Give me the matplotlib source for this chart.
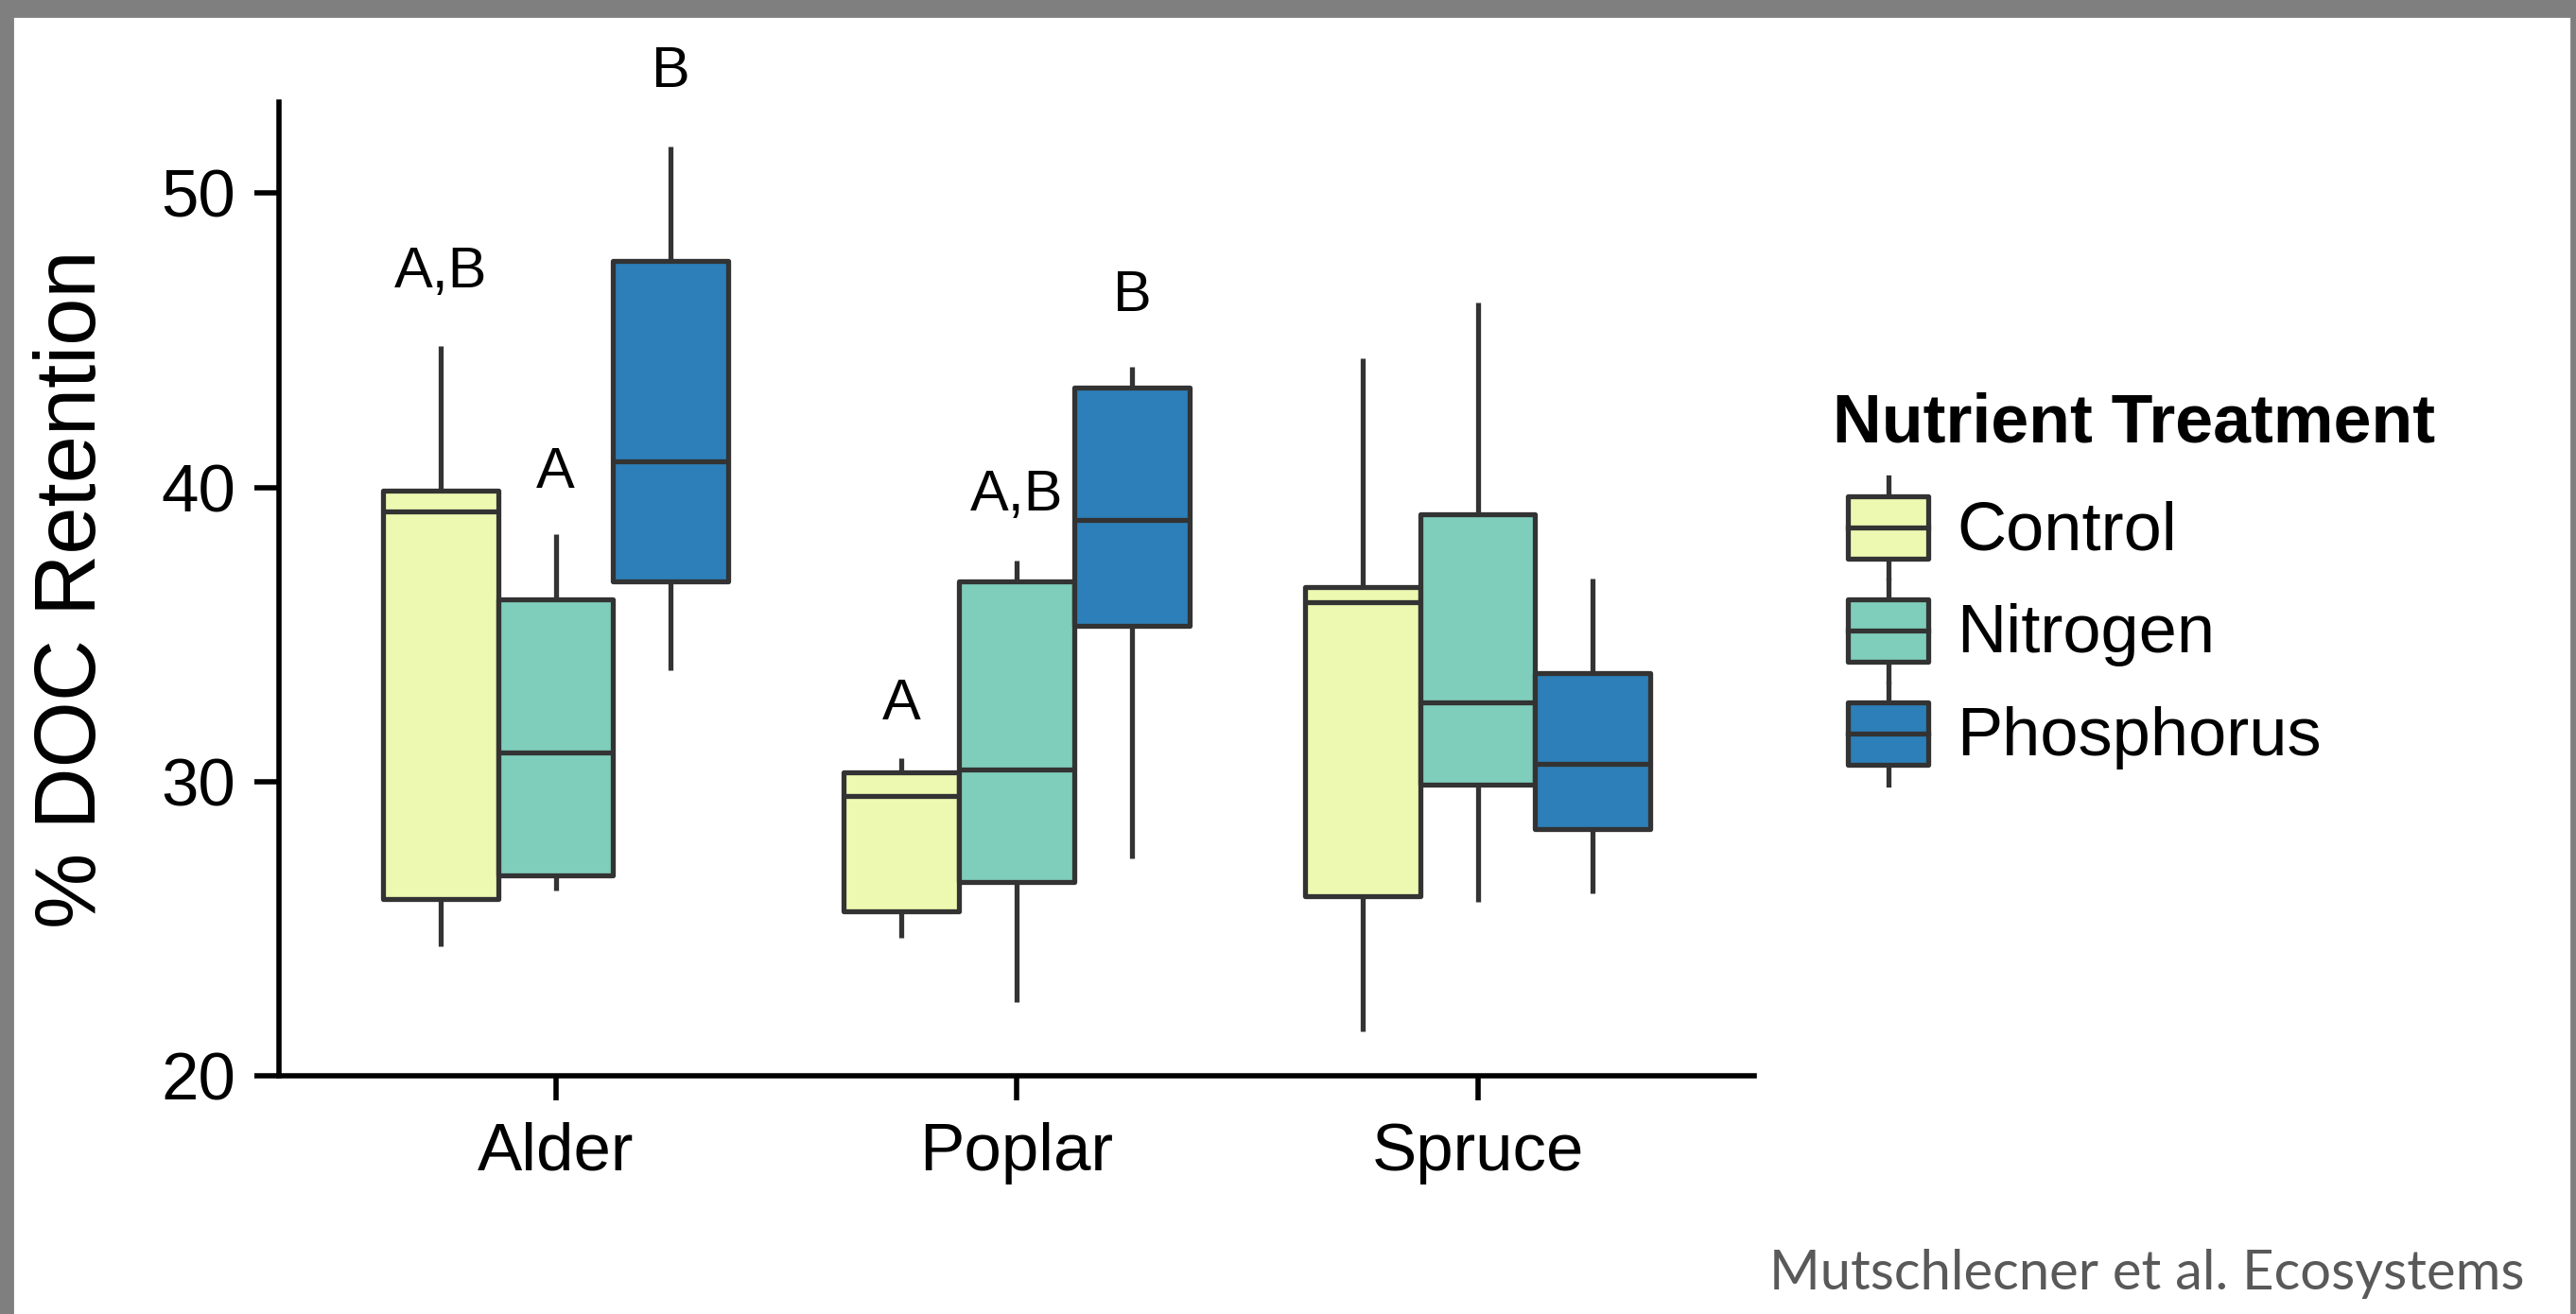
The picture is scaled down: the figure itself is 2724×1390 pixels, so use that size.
import matplotlib
matplotlib.use("Agg")
import matplotlib.pyplot as plt
from matplotlib.patches import Rectangle, Patch
from matplotlib.lines import Line2D
from matplotlib.legend_handler import HandlerBase

plt.rcParams['font.family'] = ['Liberation Sans', 'DejaVu Sans']

species = ["Alder", "Poplar", "Spruce"]
treatments = ["Control", "Nitrogen", "Phosphorus"]
colors = ["#EDF8B1", "#7FCDBB", "#2C7FB8"]

# box stats per treatment, one value per species (Alder, Poplar, Spruce)
control_lo = [24.4, 24.7, 21.5]
control_q1 = [26.0, 25.6, 26.1]
control_med = [39.2, 29.5, 36.1]
control_q3 = [39.9, 30.3, 36.6]
control_hi = [44.8, 30.8, 44.4]

nitrogen_lo = [26.3, 22.5, 25.9]
nitrogen_q1 = [26.8, 26.6, 29.9]
nitrogen_med = [31.0, 30.4, 32.7]
nitrogen_q3 = [36.2, 36.8, 39.1]
nitrogen_hi = [38.4, 37.5, 46.3]

phosphorus_lo = [33.8, 27.4, 26.2]
phosphorus_q1 = [36.8, 35.3, 28.4]
phosphorus_med = [40.9, 38.9, 30.6]
phosphorus_q3 = [47.7, 43.4, 33.7]
phosphorus_hi = [51.6, 44.1, 36.9]

# significance letters (Alder, Poplar), per treatment
letter_text = [["A,B", "A", "B"], ["A", "A,B", "B"]]
letter_y = [[47.3, 40.5, 54.1], [32.6, 39.7, 46.5]]

stats_by_trt = [
    (control_lo, control_q1, control_med, control_q3, control_hi),
    (nitrogen_lo, nitrogen_q1, nitrogen_med, nitrogen_q3, nitrogen_hi),
    (phosphorus_lo, phosphorus_q1, phosphorus_med, phosphorus_q3, phosphorus_hi),
]

edge = "#333333"
lw = 1.9
dodge = [-0.25, 0.0, 0.25]

fig = plt.figure(figsize=(13.62, 6.95), dpi=200)
ax = fig.add_axes([0.1083, 0.1813, 0.5727, 0.741])

for t, (lo, q1, med, q3, hi) in enumerate(stats_by_trt):
    stats = []
    for i in range(len(species)):
        stats.append(dict(med=med[i], q1=q1[i], q3=q3[i], whislo=lo[i], whishi=hi[i], fliers=[]))
    pos = [i + 1 + dodge[t] for i in range(len(species))]
    bp = ax.bxp(stats, positions=pos, widths=0.25, patch_artist=True, showcaps=False,
                boxprops=dict(facecolor=colors[t], edgecolor=edge, linewidth=lw, joinstyle='round'),
                medianprops=dict(color=edge, linewidth=lw, solid_capstyle='butt'),
                whiskerprops=dict(color=edge, linewidth=lw, solid_capstyle='butt'), manage_ticks=False)

for i, (labs, ys) in enumerate(zip(letter_text, letter_y)):
    for t in range(len(treatments)):
        ax.text(i + 1 + dodge[t], ys[t], labs[t], ha='center', va='center',
                fontsize=22, clip_on=False)

ax.set_xlim(0.4, 3.6)
ax.set_ylim(20, 53.1)
ax.set_xticks([1, 2, 3])
ax.set_xticklabels(species)
ax.set_yticks([20, 30, 40, 50])
ax.tick_params(axis='both', labelsize=25.5, length=9.5, width=2, color='black', labelcolor='black')
ax.tick_params(axis='x', pad=8)
ax.tick_params(axis='y', pad=7)
ax.spines['top'].set_visible(False)
ax.spines['right'].set_visible(False)
ax.spines['left'].set_linewidth(2)
ax.spines['bottom'].set_linewidth(2)
ax.set_ylabel("% DOC Retention", fontsize=32.5, labelpad=18)


class BoxHandler(HandlerBase):
    def create_artists(self, legend, orig_handle, xdescent, ydescent, width, height, fontsize, trans):
        x0 = -xdescent
        y0 = -ydescent
        cx = x0 + width / 2
        cy = y0 + height / 2
        whisk = Line2D([cx, cx], [y0, y0 + height], color=edge, lw=lw, transform=trans)
        box = Rectangle((x0, cy - height * 0.31), width, height * 0.62, joinstyle='round',
                        facecolor=orig_handle.get_facecolor(), edgecolor=edge, lw=lw, transform=trans)
        med = Line2D([x0, x0 + width], [cy, cy], color=edge, lw=lw, transform=trans)
        return [whisk, box, med]


fig.text(0.7115, 0.677, "Nutrient Treatment", ha='left', va='center',
         fontsize=25.8, fontweight='bold')

handles = [Patch(facecolor=c, label=n) for c, n in zip(colors, treatments)]
leg = fig.legend(handles=handles, loc='upper left', bbox_to_anchor=(0.7175, 0.637),
                 frameon=False, fontsize=26,
                 handler_map={Patch: BoxHandler()}, handlelength=1.17, handleheight=1.9,
                 labelspacing=0.03, handletextpad=0.42, borderpad=0, borderaxespad=0)

fig.text(0.980, 0.019, "Mutschlecner et al. Ecosystems", ha='right', va='baseline',
         fontsize=20.9, color='#595959', family=['Lato', 'DejaVu Sans'])

# grey slide frame
grey = '#7F7F7F'
fig.patches.append(Rectangle((0, 1 - 17 / 1390), 1, 17 / 1390, transform=fig.transFigure, color=grey))
fig.patches.append(Rectangle((0, 0), 13 / 2724, 1, transform=fig.transFigure, color=grey))
fig.patches.append(Rectangle((1 - 5 / 2724, 0), 5 / 2724, 1, transform=fig.transFigure, color=grey))

fig.savefig("out.png", dpi=200)
